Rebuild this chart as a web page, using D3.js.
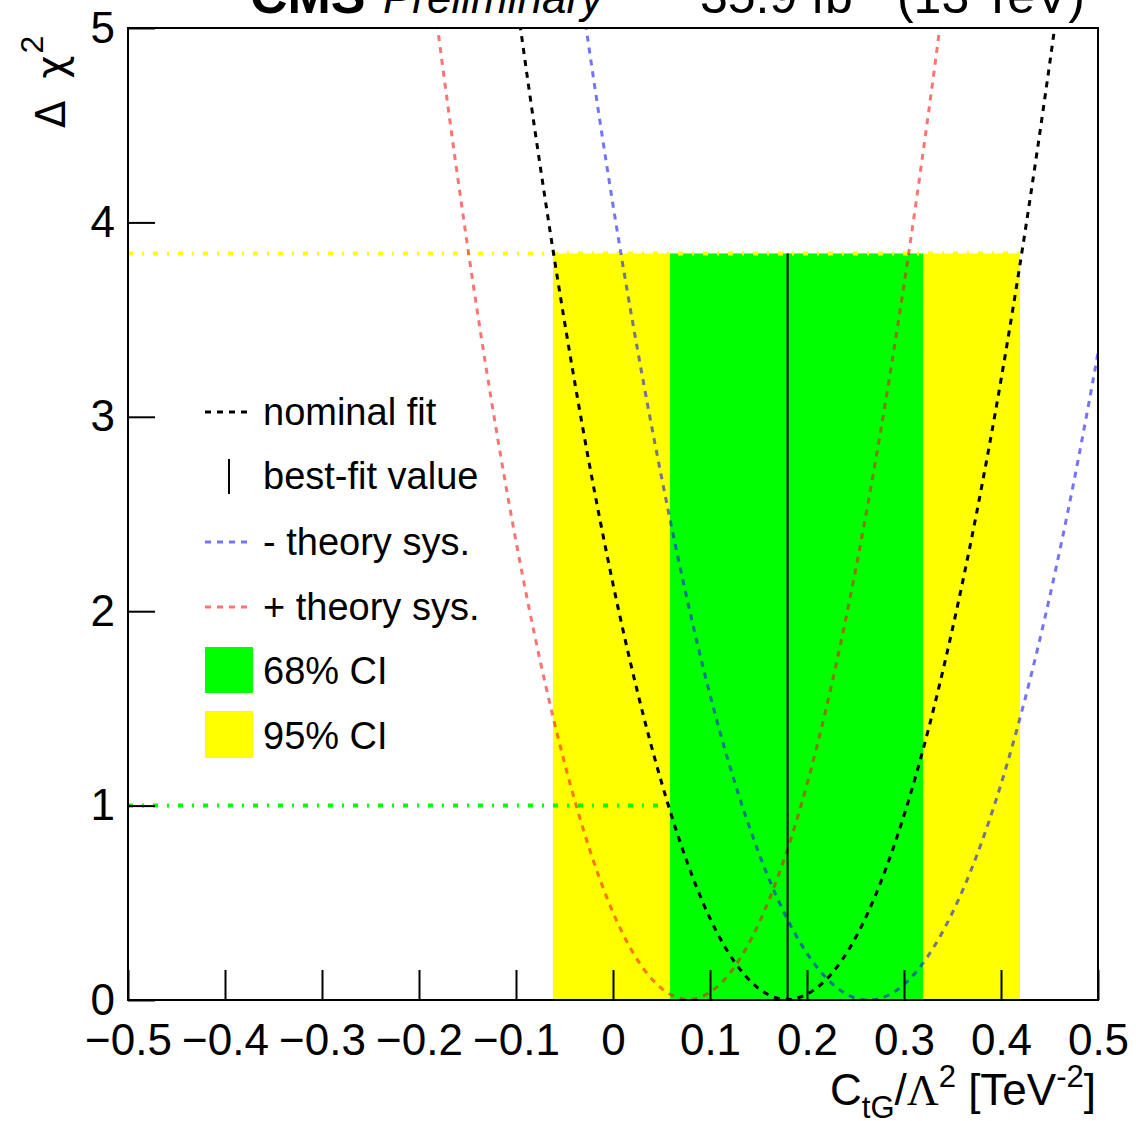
<!DOCTYPE html>
<html>
<head>
<meta charset="utf-8">
<script src="https://cdn.jsdelivr.net/npm/d3@7"></script>
<style>
  body { margin: 0; background: #fff; }
  svg { display: block; }
  text { font-family: "Liberation Sans", Arial, Helvetica, sans-serif; fill: #000; }
</style>
</head>
<body>
<div id="chart"></div>
<script>
// scan grid of the Wilson coefficient and delta chi2
var xGrid    = [-0.25, -0.20, -0.15, -0.10, -0.05, 0.00, 0.05, 0.10, 0.15, 0.20, 0.25, 0.30, 0.35, 0.40, 0.45, 0.50, 0.55];
var nominal  = [12.20, 9.53, 7.19, 5.17, 3.49, 2.14, 1.12, 0.42, 0.06, 0.03, 0.32, 0.95, 1.91, 3.19, 4.81, 6.76, 9.04];
var thMinus  = [15.58, 12.69, 10.10, 7.80, 5.80, 4.09, 2.69, 1.57, 0.76, 0.24, 0.01, 0.08, 0.45, 1.11, 2.07, 3.33, 4.88];
var thPlus   = [8.03, 5.77, 3.88, 2.36, 1.22, 0.45, 0.06, 0.04, 0.39, 1.11, 2.21, 3.68, 5.52, 7.73, 10.32, 13.29, 16.62];

var bestFit = 0.18;
var ci68 = [0.0588, 0.3196];
var ci95 = [-0.0619, 0.4196];
var level68 = 1.0;
var level95 = 3.84;

var xTicks = [-0.5, -0.4, -0.3, -0.2, -0.1, 0, 0.1, 0.2, 0.3, 0.4, 0.5];
var xTickLabels = ["\u22120.5", "\u22120.4", "\u22120.3", "\u22120.2", "\u22120.1", "0", "0.1", "0.2", "0.3", "0.4", "0.5"];
var yTicks = [0, 1, 2, 3, 4, 5];
var yTickLabels = ["0", "1", "2", "3", "4", "5"];

var legendLabels = ["nominal fit", "best-fit value", "- theory sys.", "+ theory sys.", "68% CI", "95% CI"];

var W = 1136, H = 1121;
var fLeft = 128, fRight = 1098, fTop = 28, fBottom = 1000;

var svg = d3.select("#chart").append("svg")
    .attr("width", W)
    .attr("height", H);

var x = d3.scaleLinear().domain([-0.5, 0.5]).range([fLeft, fRight]);
var y = d3.scaleLinear().domain([0, 5]).range([fBottom, fTop]);

svg.append("defs").append("clipPath")
    .attr("id", "frame")
    .append("rect")
    .attr("x", fLeft).attr("y", fTop)
    .attr("width", fRight - fLeft).attr("height", fBottom - fTop);

var plot = svg.append("g").attr("clip-path", "url(#frame)");

// confidence bands
plot.append("rect")
    .attr("x", x(ci95[0])).attr("y", y(level95))
    .attr("width", x(ci95[1]) - x(ci95[0]))
    .attr("height", y(0) - y(level95))
    .style("fill", "#ffff00");
plot.append("rect")
    .attr("x", x(ci68[0])).attr("y", y(level95))
    .attr("width", x(ci68[1]) - x(ci68[0]))
    .attr("height", y(0) - y(level95))
    .style("fill", "#00ff00");

// dash-dotted threshold lines
plot.append("line")
    .attr("x1", x(-0.5)).attr("x2", x(ci95[1]))
    .attr("y1", y(level95)).attr("y2", y(level95))
    .style("stroke", "#ffff00").style("stroke-width", 4)
    .style("stroke-dasharray", "5,9,2,9");
plot.append("line")
    .attr("x1", x(-0.5)).attr("x2", x(ci68[0]))
    .attr("y1", y(level68)).attr("y2", y(level68))
    .style("stroke", "#00ff00").style("stroke-width", 4)
    .style("stroke-dasharray", "5,9,2,9");

var line = d3.line()
    .x(function (d) { return x(d[0]); })
    .y(function (d) { return y(d[1]); })
    .curve(d3.curveCardinal.tension(0));

function pairs(vals) {
    return xGrid.map(function (v, i) { return [v, vals[i]]; });
}

var curves = [
    { vals: thPlus, color: "#ff0000", opacity: 0.55 },
    { vals: thMinus, color: "#0000ff", opacity: 0.55 },
    { vals: nominal, color: "#000000", opacity: 1 }
];
plot.selectAll("path.curve")
    .data(curves)
    .enter()
    .append("path")
    .attr("class", "curve")
    .attr("d", function (d) { return line(pairs(d.vals)); })
    .style("fill", "none")
    .style("stroke", function (d) { return d.color; })
    .style("stroke-opacity", function (d) { return d.opacity; })
    .style("stroke-width", 3)
    .style("stroke-dasharray", "6,6");

// best-fit marker
plot.append("line")
    .attr("x1", x(bestFit)).attr("x2", x(bestFit))
    .attr("y1", y(0)).attr("y2", y(level95))
    .style("stroke", "#000").style("stroke-width", 2);

// axes
var xAxis = d3.axisBottom(x)
    .tickValues(xTicks)
    .tickFormat(function (d, i) { return xTickLabels[i]; })
    .tickSizeInner(-30)
    .tickSizeOuter(0)
    .tickPadding(24);
var gx = svg.append("g")
    .attr("transform", "translate(0," + fBottom + ")")
    .call(xAxis);

var yAxis = d3.axisLeft(y)
    .tickValues(yTicks)
    .tickFormat(function (d, i) { return yTickLabels[i]; })
    .tickSizeInner(-27)
    .tickSizeOuter(0)
    .tickPadding(13);
var gy = svg.append("g")
    .attr("transform", "translate(" + fLeft + ",0)")
    .call(yAxis);

[gx, gy].forEach(function (g) {
    g.attr("font-family", null).attr("font-size", null);
    g.select(".domain").remove();
    g.selectAll(".tick line").style("stroke", "#000").style("stroke-width", 2);
    g.selectAll(".tick text").style("font-size", "44px");
});

svg.append("rect")
    .attr("x", fLeft).attr("y", fTop)
    .attr("width", fRight - fLeft).attr("height", fBottom - fTop)
    .style("fill", "none").style("stroke", "#000").style("stroke-width", 2);

// axis titles
var xt = svg.append("text")
    .attr("x", fRight - 2).attr("y", 1105)
    .attr("text-anchor", "end")
    .style("font-size", "44px");
xt.append("tspan").text("C");
xt.append("tspan").attr("dy", 13).style("font-size", "31px").text("tG");
xt.append("tspan").attr("dy", -13).text("/");
xt.append("tspan").style("font-family", "'Liberation Serif', serif").text("\u039b");
xt.append("tspan").attr("dy", -18).style("font-size", "31px").text("2");
xt.append("tspan").attr("dy", 18).text(" [TeV");
xt.append("tspan").attr("dy", -18).style("font-size", "31px").text("-2");
xt.append("tspan").attr("dy", 18).text("]");

var yt = svg.append("text")
    .attr("transform", "translate(65,128) rotate(-90)")
    .attr("text-anchor", "start")
    .style("font-size", "44px");
yt.append("tspan").style("font-family", "'DejaVu Sans', sans-serif").style("font-size", "40px").text("\u0394");
yt.append("tspan").attr("dx", 22).style("font-family", "'DejaVu Sans', sans-serif").style("font-size", "40px").text("\u03c7");
yt.append("tspan").attr("dx", 2).attr("dy", -22).style("font-size", "32px").text("2");

// header (cut off at the top edge)
svg.append("text")
    .attr("x", 250).attr("y", 13)
    .style("font-size", "52px").style("font-weight", "bold")
    .text("CMS");
svg.append("text")
    .attr("x", 383).attr("y", 13)
    .style("font-size", "44px").style("font-style", "italic")
    .text("Preliminary");
var lumi = svg.append("text")
    .attr("x", 1085).attr("y", 13)
    .attr("text-anchor", "end")
    .style("font-size", "50px");
lumi.append("tspan").text("35.9 fb");
lumi.append("tspan").attr("dy", -20).style("font-size", "34px").text("-1");
lumi.append("tspan").attr("dy", 20).text(" (13 TeV)");

// legend
var legY = [412, 476, 542, 607, 671, 736];
var leg = svg.append("g");
leg.selectAll("text")
    .data(legendLabels)
    .enter()
    .append("text")
    .attr("x", 263)
    .attr("y", function (d, i) { return legY[i] + 13; })
    .style("font-size", "38px")
    .text(function (d) { return d; });

var legLines = [
    { row: 0, color: "#000", opacity: 1 },
    { row: 2, color: "#0000ff", opacity: 0.55 },
    { row: 3, color: "#ff0000", opacity: 0.55 }
];
leg.selectAll("line.sample")
    .data(legLines)
    .enter()
    .append("line")
    .attr("class", "sample")
    .attr("x1", 205).attr("x2", 250)
    .attr("y1", function (d) { return legY[d.row]; })
    .attr("y2", function (d) { return legY[d.row]; })
    .style("stroke", function (d) { return d.color; })
    .style("stroke-opacity", function (d) { return d.opacity; })
    .style("stroke-width", 3)
    .style("stroke-dasharray", "6,6");
leg.append("line")
    .attr("x1", 229).attr("x2", 229)
    .attr("y1", legY[1] - 17).attr("y2", legY[1] + 18)
    .style("stroke", "#000").style("stroke-width", 2);
leg.append("rect")
    .attr("x", 205).attr("y", legY[4] - 24)
    .attr("width", 48).attr("height", 46)
    .style("fill", "#00ff00");
leg.append("rect")
    .attr("x", 205).attr("y", legY[5] - 25)
    .attr("width", 48).attr("height", 47)
    .style("fill", "#ffff00");
</script>
</body>
</html>
